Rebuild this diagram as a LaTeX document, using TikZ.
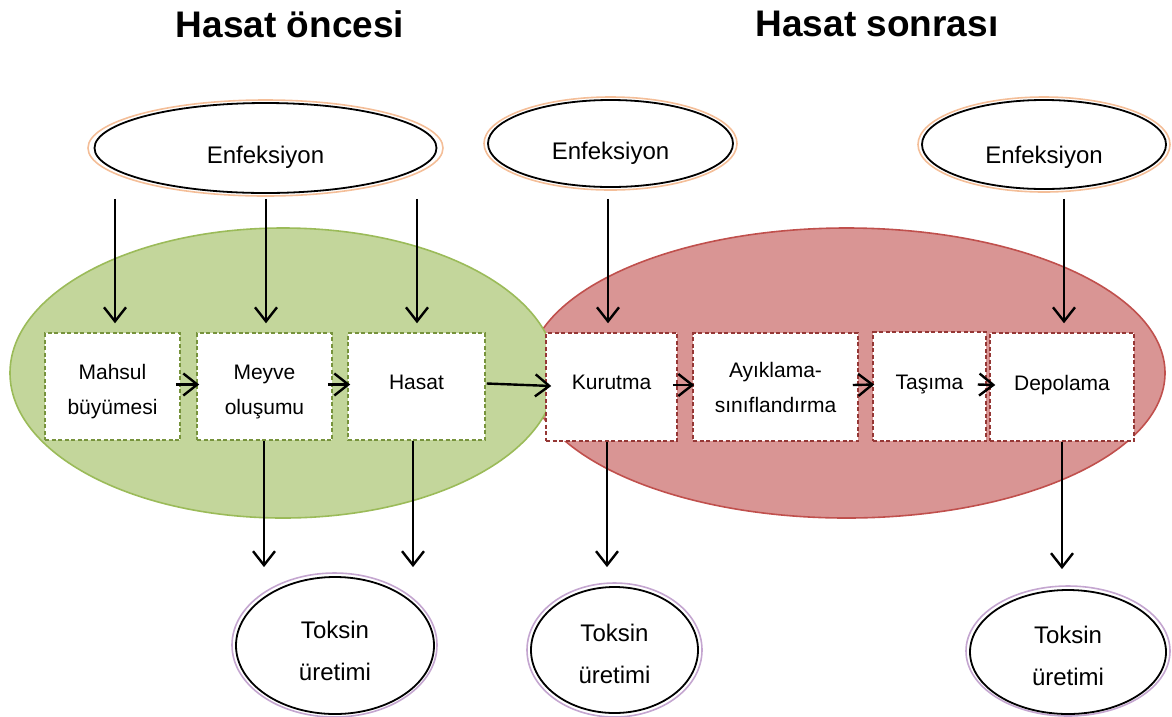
\documentclass[tikz,border=0pt]{standalone}
\usepackage{fontspec}
\setmainfont{Liberation Sans}
\usetikzlibrary{arrows.meta,shapes.geometric,calc}
\definecolor{gfill}{HTML}{C3D69B}
\definecolor{gline}{HTML}{9BBB59}
\definecolor{gbox}{HTML}{77933C}
\definecolor{rfill}{HTML}{D99594}
\definecolor{rline}{HTML}{C0504D}
\definecolor{rbox}{HTML}{953735}
\definecolor{peach}{HTML}{F4BE98}
\definecolor{lilac}{HTML}{C4A6D0}
\newcommand\placetext[2]{\raisebox{#1}[0pt][0pt]{\begin{tabular}[t]{@{}c@{}}#2\end{tabular}}}
\begin{document}
\begin{tikzpicture}[x=1pt,y=-1pt,
 stagebox/.style={draw, fill=white, dash pattern=on 4pt off 2.5pt, line width=1.5pt, align=center, font=\fontsize{21}{35}\selectfont, inner sep=0pt},
 gstage/.style={stagebox, draw=gbox},
 rstage/.style={stagebox, draw=rbox},
 oval/.style={ellipse, draw=black, line width=1.8pt, fill=white, inner sep=0pt, align=center, font=\fontsize{24}{40}\selectfont},
 toxoval/.style={oval, font=\fontsize{24}{42}\selectfont},
 peachring/.style={draw=peach, line width=1.6pt},
 lilacring/.style={draw=lilac, line width=1.6pt},
 arr/.style={line width=2.4pt, -{Straight Barb[length=14pt,width=22pt]}},
 title/.style={font=\fontsize{37}{40}\selectfont\bfseries}]
\useasboundingbox (0,0) rectangle (1172,716);

% titles
\node[title] (h1) at (290,24) {Hasat öncesi};
\node[title] (h2) at (877,24) {Hasat sonrası};

% phase ellipses
\path[fill=rfill, draw=rline, line width=1.6pt] (846.5,373) ellipse [x radius=318.5, y radius=145];
\path[fill=gfill, draw=gline, line width=1.6pt] (283,373) ellipse [x radius=273, y radius=145];

% infection ellipses
\draw[peachring] (265.5,148) ellipse [x radius=177.5, y radius=48];
\node[oval, minimum width=342pt, minimum height=90pt] (e1) at (265.5,148) {\placetext{-15pt}{Enfeksiyon}};
\draw[peachring] (610.5,143.5) ellipse [x radius=126.5, y radius=46.5];
\node[oval, minimum width=245pt, minimum height=87pt] (e2) at (610.5,143.5) {\placetext{-15.5pt}{Enfeksiyon}};
\draw[peachring] (1044,144.5) ellipse [x radius=126, y radius=47.5];
\node[oval, minimum width=244pt, minimum height=89pt] (e3) at (1044,144.5) {\placetext{-18.5pt}{Enfeksiyon}};

% toxin ellipses
\draw[lilacring] (334.5,645) ellipse [x radius=102.5, y radius=72];
\node[toxoval, minimum width=198pt, minimum height=137pt] (t1) at (335,645.5) {\placetext{7.5pt}{Toksin\\üretimi}};
\draw[lilacring] (614.5,650) ellipse [x radius=87.5, y radius=67];
\node[toxoval, minimum width=167pt, minimum height=126pt] (t2) at (614.5,650) {\placetext{9pt}{Toksin\\üretimi}};
\draw[lilacring] (1068,651) ellipse [x radius=102, y radius=65];
\node[toxoval, minimum width=196pt, minimum height=124pt] (t3) at (1068,652) {\placetext{8.5pt}{Toksin\\üretimi}};

% stage boxes
\node[gstage, minimum width=135pt, minimum height=107pt] (m1) at (112.5,386.5) {\placetext{7.5pt}{Mahsul\\büyümesi}};
\node[gstage, minimum width=135pt, minimum height=107pt] (m2) at (264.5,386.5) {\placetext{7.5pt}{Meyve\\oluşumu}};
\node[gstage, minimum width=137pt, minimum height=107pt] (m3) at (416.5,386.5) {\placetext{-3pt}{Hasat}};
\node[rstage, minimum width=131pt, minimum height=108pt] (k1) at (611.5,387) {\placetext{-2.5pt}{Kurutma}};
\node[rstage, minimum width=165pt, minimum height=108pt] (k2) at (775.5,387) {\placetext{9.5pt}{Ayıklama-\\sınıflandırma}};
\node[rstage, minimum width=113pt, minimum height=109pt] (k3) at (929.5,386.5) {\placetext{-3pt}{Taşıma}};
\node[rstage, minimum width=144pt, minimum height=108pt] (k4) at (1062,387) {\placetext{-3.5pt}{Depolama}};

% infection arrows
\draw[arr] ($(m1.north |- e1.south)+(2.5,5)$) -- ($(m1.north)+(2.5,-9)$);
\draw[arr] ($(m2.north |- e1.south)+(1.5,5)$) -- ($(m2.north)+(1.5,-9)$);
\draw[arr] ($(m3.north |- e1.south)+(0.5,5)$) -- ($(m3.north)+(0.5,-9)$);
\draw[arr] ($(k1.north |- e2.south)+(-3.5,11)$) -- ($(k1.north)+(-3.5,-9)$);
\draw[arr] ($(k4.north |- e3.south)+(2,9)$) -- ($(k4.north)+(2,-9)$);

% toxin arrows
\draw[arr] ($(m2.south)+(-0.5,0)$) -- ($(m2.south |- t1.north)+(-0.5,-9)$);
\draw[arr] ($(m3.south)+(-3.5,0)$) -- ($(m3.south |- t1.north)+(-3.5,-9)$);
\draw[arr] ($(k1.south)+(-4.5,0)$) -- ($(k1.south |- t2.north)+(-4.5,-19)$);
\draw[arr] ($(k4.south)+(0,0)$) -- ($(k4.south |- t3.north)+(0,-20)$);

% process arrows
\draw[arr] ($(m1.east)+(-5,-2)$) -- ($(m2.west)+(3,-2)$);
\draw[arr] ($(m2.east)+(-5,-2)$) -- ($(m3.west)+(3,-2)$);
\draw[arr] ($(m3.east)+(1,-3)$) -- ($(k1.west)+(6,-1)$);
\draw[arr] ($(k1.east)+(-5,-2)$) -- ($(k2.west)+(2,-2)$);
\draw[arr] ($(k2.east)+(-6,-2)$) -- ($(k3.west)+(2,-2)$);
\draw[arr] ($(k3.east)+(-9,-2)$) -- ($(k4.west)+(6,-2)$);
\end{tikzpicture}
\end{document}
